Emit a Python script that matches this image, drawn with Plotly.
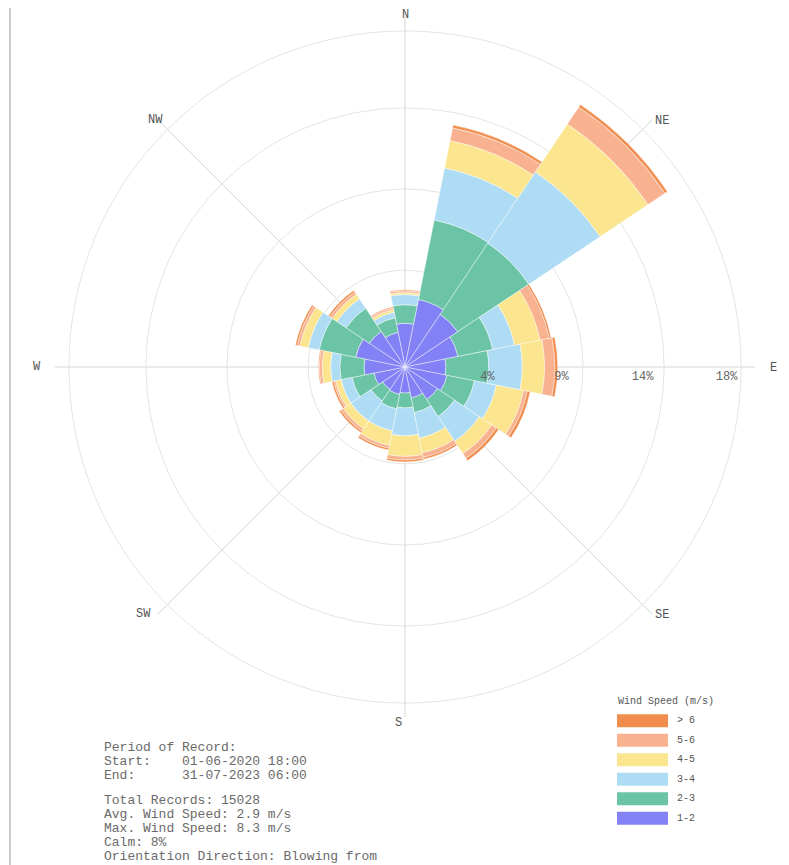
import plotly.graph_objects as go

directions = ["N", "NNE", "NE", "ENE", "E", "ESE", "SE", "SSE",
              "S", "SSW", "SW", "WSW", "W", "WNW", "NW", "NNW"]
angles = [i * 22.5 for i in range(16)]

speed_labels = ["1-2", "2-3", "3-4", "4-5", "5-6", "> 6"]
# frequency (%) of each speed class by direction (stacked)
s12 = [2.35, 3.70, 3.40, 2.90, 2.20, 2.30, 2.10, 1.70, 1.40, 1.50, 1.45, 1.70, 2.20, 2.70, 2.30, 1.90]
s23 = [1.00, 4.35, 4.60, 1.90, 2.30, 1.50, 1.10, 0.80, 0.80, 0.80, 0.75, 1.20, 1.30, 2.00, 1.50, 0.80]
s34 = [0.55, 2.85, 4.60, 1.20, 1.80, 1.20, 1.60, 1.40, 1.50, 1.20, 1.30, 0.60, 0.50, 0.60, 0.60, 0.30]
s45 = [0.10, 1.50, 3.10, 1.40, 1.20, 1.50, 0.80, 0.80, 1.10, 0.80, 0.50, 0.30, 0.45, 0.45, 0.30, 0.15]
s56 = [0.10, 0.70, 1.10, 0.50, 0.55, 0.20, 0.30, 0.25, 0.20, 0.15, 0.15, 0.10, 0.15, 0.15, 0.15, 0.10]
s6p = [0.05, 0.15, 0.15, 0.10, 0.15, 0.15, 0.15, 0.10, 0.10, 0.10, 0.10, 0.10, 0.05, 0.10, 0.10, 0.05]
series = [s12, s23, s34, s45, s56, s6p]
colors = ["#8282f6", "#6cc4a6", "#aedcf4", "#fbe58e", "#f8b290", "#f08c4c"]

compass_vals = [0, 45, 90, 135, 180, 225, 270, 315]
compass_text = ["N", "NE", "E", "SE", "S", "SW", "W", "NW"]
radial_ticks = [5.2, 9.56, 13.92, 18.05]
radial_text = ["4%", "9%", "14%", "18%"]

info_lines = ["Period of Record:",
              "Start:    01-06-2020 18:00",
              "End:      31-07-2023 06:00",
              "Total Records: 15028",
              "Avg. Wind Speed: 2.9 m/s",
              "Max. Wind Speed: 8.3 m/s",
              "Calm: 8%",
              "Orientation Direction: Blowing from"]

MONO = "Liberation Mono, Courier New, monospace"
OFF = 8                      # page body margin of the browser
W, H = 789 - OFF, 865 - OFF


def px(x):   # reference x pixel -> paper
    return (x - OFF) / W


def py(y):   # reference y pixel -> paper
    return 1 - (y - OFF) / H


fig = go.Figure()
for vals, lab, col in zip(series, speed_labels, colors):
    fig.add_trace(go.Barpolar(
        r=vals, theta=angles, width=[22.5] * 16, name=lab,
        marker=dict(color=col, line=dict(color="rgba(255,255,255,0.7)", width=0.6)),
        showlegend=False,
    ))

# tick labels sit just left of their ring, as in the reference
pad = [4, 6, 6, 4]
tick_text = [t + "\u00a0" * n for t, n in zip(radial_text, pad)]

cx, cy, R = 405, 367, 350
fig.update_layout(
    width=W, height=H,
    margin=dict(l=0, r=0, t=0, b=0),
    paper_bgcolor="white",
    font=dict(family=MONO, color="#555"),
    polar=dict(
        domain=dict(x=[px(cx - R), px(cx + R)], y=[py(cy + R), py(cy - R)]),
        bgcolor="white",
        bargap=0,
        radialaxis=dict(range=[0, 18.8], tickvals=radial_ticks, ticktext=tick_text,
                        angle=0, showline=False, ticks="", ticklen=0,
                        gridcolor="#e4e4e4", gridwidth=1,
                        tickfont=dict(family=MONO, size=12, color="#666"), layer="above traces"),
        angularaxis=dict(rotation=90, direction="clockwise", tickmode="array",
                         tickvals=compass_vals, ticktext=compass_text, showline=False,
                         showticklabels=False, ticks="", gridcolor="#d6d6d6", gridwidth=1,
                         layer="above traces"),
    ),
)

# compass labels
compass_pos = [(405, 15), (662, 121), (773, 368), (662, 615),
               (399, 723), (143, 614), (37, 367), (155, 120)]
for lab, (x, y) in zip(compass_text, compass_pos):
    fig.add_annotation(x=px(x), y=py(y), xref="paper", yref="paper", text=lab,
                       showarrow=False, xanchor="center", yanchor="middle",
                       font=dict(family=MONO, size=12, color="#555"))

# info text block
line_y = [747, 761, 775, 800, 814, 828, 842, 856]
for line, yy in zip(info_lines, line_y):
    fig.add_annotation(x=px(102), y=py(yy), xref="paper", yref="paper",
                       text=line.replace(" ", "&nbsp;"), showarrow=False,
                       xanchor="left", yanchor="middle",
                       font=dict(family=MONO, size=13, color="#6a6a6a"))

# legend (drawn)
fig.add_annotation(x=px(616), y=py(701), xref="paper", yref="paper",
                   text="Wind&nbsp;Speed&nbsp;(m/s)", showarrow=False, xanchor="left",
                   yanchor="middle", font=dict(family=MONO, size=10, color="#555"))
row_y = [720.7, 740.2, 759.7, 779.2, 798.7, 818.2]
for k, (lab, col) in enumerate(zip(reversed(speed_labels), reversed(colors))):
    yy = row_y[k]
    fig.add_shape(type="rect", xref="paper", yref="paper",
                  x0=px(617), x1=px(668), y0=py(yy + 6.5), y1=py(yy - 6.5),
                  fillcolor=col, line=dict(width=0))
    fig.add_annotation(x=px(675), y=py(yy), xref="paper", yref="paper",
                       text=lab.replace(" ", "&nbsp;"), showarrow=False, xanchor="left",
                       yanchor="middle", font=dict(family=MONO, size=10, color="#555"))

# screenshot frame line on the left
fig.add_shape(type="line", xref="paper", yref="paper", x0=px(10), x1=px(10), y0=0, y1=1,
              line=dict(color="#bbbbbb", width=1.5))

fig.write_html("out.html")
